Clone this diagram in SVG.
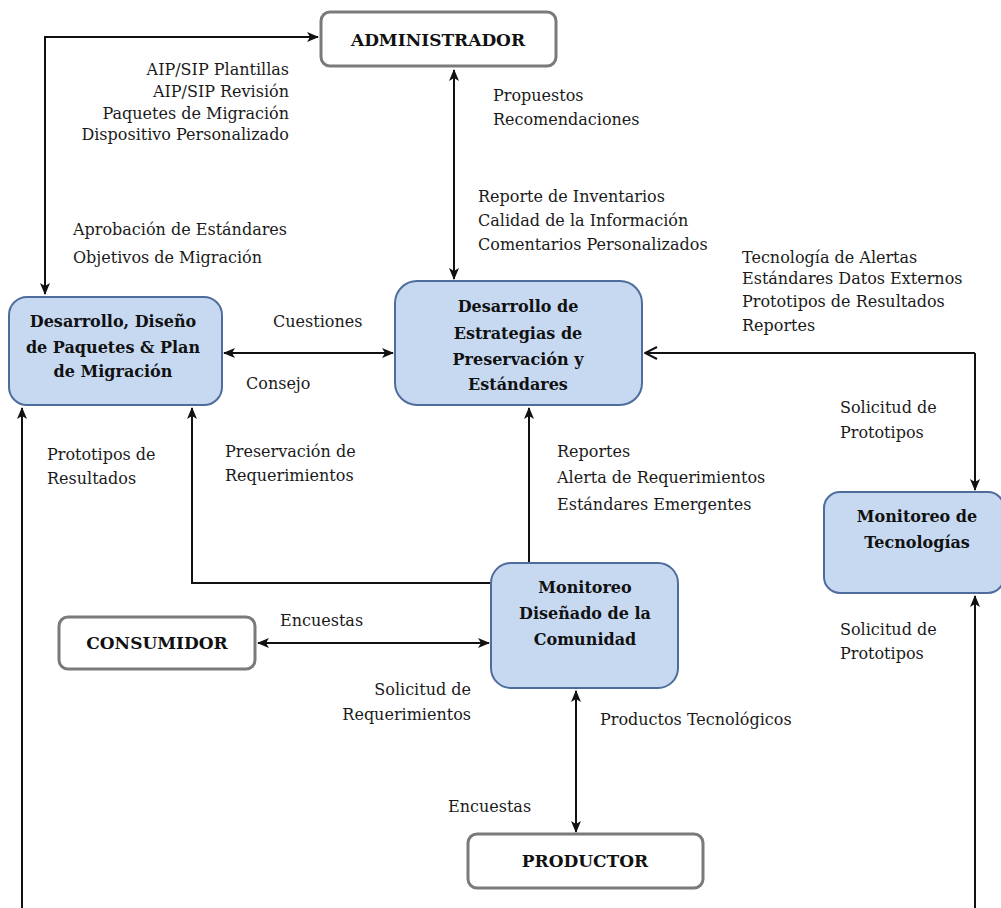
<svg xmlns="http://www.w3.org/2000/svg" width="1001" height="908" viewBox="0 0 1001 908">
  <style>
    .lbl { font-family: "DejaVu Serif", "Liberation Serif", serif; font-size: 16px; fill: #1a1a1a; }
    .end { text-anchor: end; }
    .ttl { font-family: "DejaVu Serif", "Liberation Serif", serif; font-size: 16px; font-weight: bold; fill: #111; text-anchor: middle; }
    .cap { font-size: 17px; }
    .ext { fill: #ffffff; stroke: #7a7a7a; stroke-width: 3; }
    .proc { fill: #c6d9f1; stroke: #4f6d9c; stroke-width: 2; }
    .wire { fill: none; stroke: #111; stroke-width: 2; }
  </style>
  <defs>
    <marker id="arr" viewBox="0 0 12 10" refX="11" refY="5" markerWidth="12" markerHeight="10" markerUnits="userSpaceOnUse" orient="auto-start-reverse">
      <path d="M0,0 L12,5 L0,10 L3,5 z" fill="#111"/>
    </marker>
    <marker id="open" viewBox="0 0 14 14" refX="13" refY="7" markerWidth="14" markerHeight="14" markerUnits="userSpaceOnUse" orient="auto">
      <path d="M1,1 L13,7 L1,13" fill="none" stroke="#111" stroke-width="2"/>
    </marker>
  </defs>

  <rect width="1001" height="908" fill="#ffffff"/>

  <!-- connectors -->
  <g id="connectors" class="wire">
    <path d="M45,294 V37 H318" marker-start="url(#arr)" marker-end="url(#arr)"/>
    <path d="M454,70 V279" marker-start="url(#arr)" marker-end="url(#arr)"/>
    <path d="M224,353 H393" marker-start="url(#arr)" marker-end="url(#arr)"/>
    <path d="M975,353 H645" marker-end="url(#open)"/>
    <path d="M975,353 V490" marker-end="url(#arr)"/>
    <path d="M975,908 V596" marker-end="url(#arr)"/>
    <path d="M22,908 V408" marker-end="url(#arr)"/>
    <path d="M491,583 H192 V408" marker-end="url(#arr)"/>
    <path d="M529,563 V408" marker-end="url(#arr)"/>
    <path d="M258,643 H489" marker-start="url(#arr)" marker-end="url(#arr)"/>
    <path d="M576,691 V832" marker-start="url(#arr)" marker-end="url(#arr)"/>
  </g>

  <!-- connector labels -->
  <g id="labels">
    <text class="lbl end" x="289" y="75">AIP/SIP Plantillas</text>
    <text class="lbl end" x="289" y="97">AIP/SIP Revisión</text>
    <text class="lbl end" x="289" y="119">Paquetes de Migración</text>
    <text class="lbl end" x="289" y="140">Dispositivo Personalizado</text>
    <text class="lbl" x="73" y="235">Aprobación de Estándares</text>
    <text class="lbl" x="73" y="263">Objetivos de Migración</text>
    <text class="lbl" x="493" y="101">Propuestos</text>
    <text class="lbl" x="493" y="125">Recomendaciones</text>
    <text class="lbl" x="478" y="202">Reporte de Inventarios</text>
    <text class="lbl" x="478" y="226">Calidad de la Información</text>
    <text class="lbl" x="478" y="250">Comentarios Personalizados</text>
    <text class="lbl" x="742" y="263">Tecnología de Alertas</text>
    <text class="lbl" x="742" y="284">Estándares Datos Externos</text>
    <text class="lbl" x="742" y="307">Prototipos de Resultados</text>
    <text class="lbl" x="742" y="331">Reportes</text>
    <text class="lbl" x="273" y="327">Cuestiones</text>
    <text class="lbl" x="246" y="389">Consejo</text>
    <text class="lbl" x="840" y="413">Solicitud de</text>
    <text class="lbl" x="840" y="438">Prototipos</text>
    <text class="lbl" x="840" y="635">Solicitud de</text>
    <text class="lbl" x="840" y="659">Prototipos</text>
    <text class="lbl" x="47" y="460">Prototipos  de</text>
    <text class="lbl" x="47" y="484">Resultados</text>
    <text class="lbl" x="225" y="457">Preservación de</text>
    <text class="lbl" x="225" y="481">Requerimientos</text>
    <text class="lbl" x="557" y="457">Reportes</text>
    <text class="lbl" x="557" y="483">Alerta de Requerimientos</text>
    <text class="lbl" x="557" y="510">Estándares Emergentes</text>
    <text class="lbl" x="280" y="626">Encuestas</text>
    <text class="lbl end" x="471" y="695">Solicitud de</text>
    <text class="lbl end" x="471" y="720">Requerimientos</text>
    <text class="lbl" x="600" y="725">Productos Tecnológicos</text>
    <text class="lbl" x="448" y="812">Encuestas</text>
  </g>

  <!-- nodes -->
  <g id="administrador">
    <rect class="ext" x="321" y="12" width="235" height="54" rx="9"/>
    <text class="ttl cap" x="438" y="46">ADMINISTRADOR</text>
  </g>
  <g id="desarrollo-paquetes">
    <rect class="proc" x="9" y="297" width="213" height="108" rx="18"/>
    <text class="ttl" x="113" y="327">Desarrollo, Diseño</text>
    <text class="ttl" x="113" y="353">de Paquetes &amp; Plan</text>
    <text class="ttl" x="113" y="377">de Migración</text>
  </g>
  <g id="estrategias">
    <rect class="proc" x="395" y="281" width="247" height="124" rx="22"/>
    <text class="ttl" x="518" y="312">Desarrollo  de</text>
    <text class="ttl" x="518" y="339">Estrategias de</text>
    <text class="ttl" x="518" y="365">Preservación y</text>
    <text class="ttl" x="518" y="390">Estándares</text>
  </g>
  <g id="monitoreo-tecnologias">
    <rect class="proc" x="824" y="492" width="180" height="101" rx="16"/>
    <text class="ttl" x="917" y="522">Monitoreo de</text>
    <text class="ttl" x="917" y="548">Tecnologías</text>
  </g>
  <g id="monitoreo-comunidad">
    <rect class="proc" x="491" y="563" width="187" height="125" rx="20"/>
    <text class="ttl" x="585" y="593">Monitoreo</text>
    <text class="ttl" x="585" y="619">Diseñado de la</text>
    <text class="ttl" x="585" y="645">Comunidad</text>
  </g>
  <g id="consumidor">
    <rect class="ext" x="59" y="617" width="196" height="52" rx="9"/>
    <text class="ttl cap" x="157" y="649">CONSUMIDOR</text>
  </g>
  <g id="productor">
    <rect class="ext" x="468" y="834" width="235" height="54" rx="9"/>
    <text class="ttl cap" x="585" y="867">PRODUCTOR</text>
  </g>
</svg>
